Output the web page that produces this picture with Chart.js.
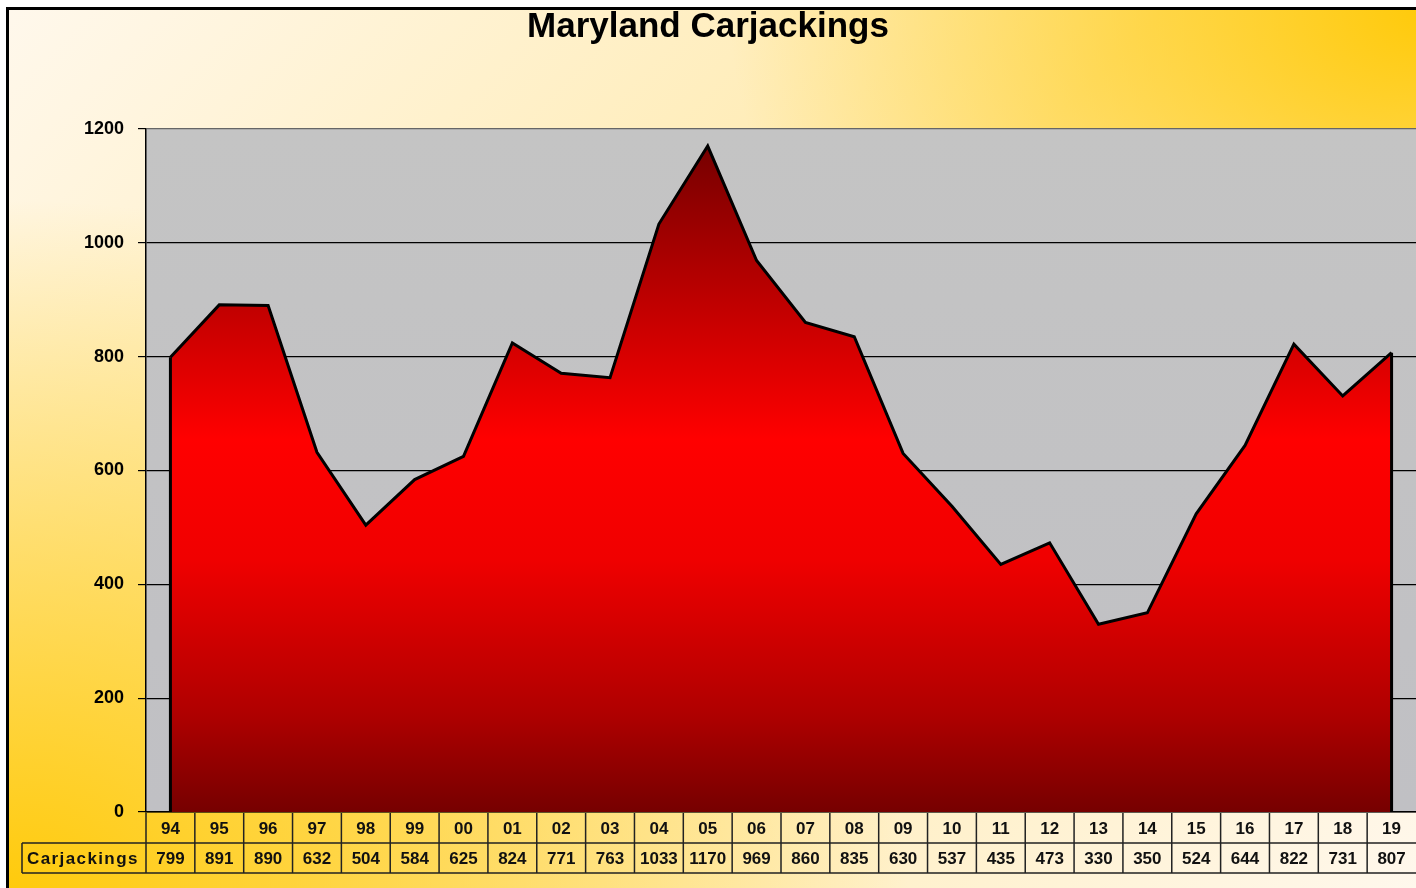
<!DOCTYPE html>
<html>
<head>
<meta charset="utf-8">
<script src="https://cdn.jsdelivr.net/npm/chart.js@4.4.0/dist/chart.umd.min.js"></script>
<style>
  html, body { margin: 0; padding: 0; background: #fff; }
  #frame {
    position: absolute; left: 6px; top: 7px; width: 1420px; height: 890px;
    border-left: 3px solid #000; border-top: 3px solid #000;
    background:
      radial-gradient(ellipse 700px 520px at 100% 0%, rgba(255,200,0,0.95), rgba(255,200,0,0) 100%),
      radial-gradient(ellipse 900px 700px at 0% 100%, rgba(255,200,0,0.95), rgba(255,200,0,0) 100%),
      linear-gradient(135deg, #fff8ec 0%, #ffe9a8 50%, #fff8ee 100%);
  }
  #wrap { position: absolute; left: 0; top: 0; width: 1416px; height: 888px; }
</style>
</head>
<body>
<div id="frame"></div>
<div id="wrap"><canvas id="chart" width="1416" height="888"></canvas></div>
<script>
// Maryland carjackings by year
const years = ['94','95','96','97','98','99','00','01','02','03','04','05','06','07','08','09','10','11','12','13','14','15','16','17','18','19'];
const carjackings = [799, 891, 890, 632, 504, 584, 625, 824, 771, 763, 1033, 1170, 969, 860, 835, 630, 537, 435, 473, 330, 350, 524, 644, 822, 731, 807];
const yTicks = [0, 200, 400, 600, 800, 1000, 1200];
const seriesName = 'Carjackings';

const FONT = '"Liberation Sans", Arial, sans-serif';

// gray plot background
const plotBg = {
  id: 'plotBg',
  beforeDraw(chart) {
    const { ctx, chartArea: a } = chart;
    ctx.save();
    const g = ctx.createLinearGradient(0, a.top, 0, a.bottom);
    g.addColorStop(0, '#c4c4c4');
    g.addColorStop(1, '#c0c0c4');
    ctx.fillStyle = g;
    ctx.fillRect(a.left, a.top, a.right - a.left, a.bottom - a.top);
    ctx.restore();
  }
};

// side edges of the area
const areaEdges = {
  id: 'areaEdges',
  afterDatasetsDraw(chart) {
    const { ctx } = chart;
    const x = chart.scales.x, y = chart.scales.y;
    ctx.save();
    ctx.strokeStyle = '#000';
    ctx.lineWidth = 3;
    [0, carjackings.length - 1].forEach(i => {
      const px = x.getPixelForValue(i);
      ctx.beginPath();
      ctx.moveTo(px, y.getPixelForValue(carjackings[i]));
      ctx.lineTo(px, y.getPixelForValue(0));
      ctx.stroke();
    });
    ctx.restore();
  }
};

// data table under the x axis
const dataTable = {
  id: 'dataTable',
  afterDraw(chart) {
    const { ctx, chartArea: a } = chart;
    const x = chart.scales.x;
    const half = (x.getPixelForValue(1) - x.getPixelForValue(0)) / 2;
    const r1Top = a.bottom + 1, r1Bot = a.bottom + 31, r2Bot = a.bottom + 61;
    const labelLeft = 22;
    ctx.save();
    ctx.strokeStyle = '#222';
    ctx.lineWidth = 1.5;
    ctx.beginPath();
    ctx.moveTo(labelLeft, r1Bot); ctx.lineTo(a.right, r1Bot);
    ctx.moveTo(labelLeft, r2Bot); ctx.lineTo(a.right, r2Bot);
    ctx.moveTo(labelLeft, r1Bot); ctx.lineTo(labelLeft, r2Bot);
    ctx.moveTo(a.left, r1Top); ctx.lineTo(a.left, r2Bot);
    for (let i = 0; i < years.length; i++) {
      const right = x.getPixelForValue(i) + half;
      if (right < a.right - 2) {
        ctx.moveTo(right, r1Top); ctx.lineTo(right, r2Bot);
      }
    }
    ctx.stroke();

    ctx.fillStyle = '#111';
    ctx.font = 'bold 17px ' + FONT;
    ctx.textAlign = 'center';
    ctx.textBaseline = 'middle';
    years.forEach((yr, i) => {
      const cx = x.getPixelForValue(i);
      ctx.fillText(yr, cx, (r1Top + r1Bot) / 2 + 1);
      ctx.fillText(String(carjackings[i]), cx, (r1Bot + r2Bot) / 2 + 1);
    });
    ctx.textAlign = 'left';
    if ('letterSpacing' in ctx) ctx.letterSpacing = '1.4px';
    ctx.fillText(seriesName, labelLeft + 5, (r1Bot + r2Bot) / 2 + 1);
    ctx.restore();
  }
};

const ctx = document.getElementById('chart').getContext('2d');

function areaFill(context) {
  const chart = context.chart;
  const a = chart.chartArea;
  if (!a) return '#e00000';
  const y = chart.scales.y;
  const top = y.getPixelForValue(Math.max(...carjackings));
  const g = chart.ctx.createLinearGradient(0, top, 0, a.bottom);
  g.addColorStop(0, '#760000');
  g.addColorStop(0.44, '#ff0000');
  g.addColorStop(0.62, '#f00000');
  g.addColorStop(0.85, '#b00000');
  g.addColorStop(1, '#760000');
  return g;
}

new Chart(ctx, {
  type: 'line',
  data: {
    labels: years,
    datasets: [{
      label: seriesName,
      data: carjackings,
      fill: 'origin',
      backgroundColor: areaFill,
      borderColor: '#000',
      borderWidth: 3,
      pointRadius: 0,
      tension: 0
    }]
  },
  options: {
    responsive: false,
    animation: false,
    layout: { padding: { left: 0, right: 0, top: 0, bottom: 14 } },
    plugins: {
      legend: { display: false },
      tooltip: { enabled: false },
      title: {
        display: true,
        text: 'Maryland Carjackings',
        color: '#000',
        font: { family: FONT, size: 35, weight: 'bold' },
        padding: { top: 6, bottom: 81 }
      }
    },
    scales: {
      x: {
        offset: true,
        grid: { display: false, drawTicks: false },
        border: { display: true, color: '#000', width: 1.5 },
        ticks: { display: false },
        afterFit(scale) { scale.height = 62; }
      },
      y: {
        min: 0,
        max: 1200,
        afterBuildTicks(scale) { scale.ticks = yTicks.map(v => ({ value: v })); },
        afterFit(scale) { scale.width = 146; },
        grid: {
          color: (c) => c.tick && c.tick.value === 1200 ? '#666' : '#000',
          lineWidth: 1.2,
          drawTicks: true,
          tickLength: 8,
          tickColor: '#000'
        },
        border: { display: true, color: '#000', width: 1.5 },
        ticks: {
          color: '#000',
          padding: 14,
          font: { family: FONT, size: 18, weight: 'bold' },
          callback: (v) => String(v)
        }
      }
    }
  },
  plugins: [plotBg, areaEdges, dataTable]
});
</script>
</body>
</html>
